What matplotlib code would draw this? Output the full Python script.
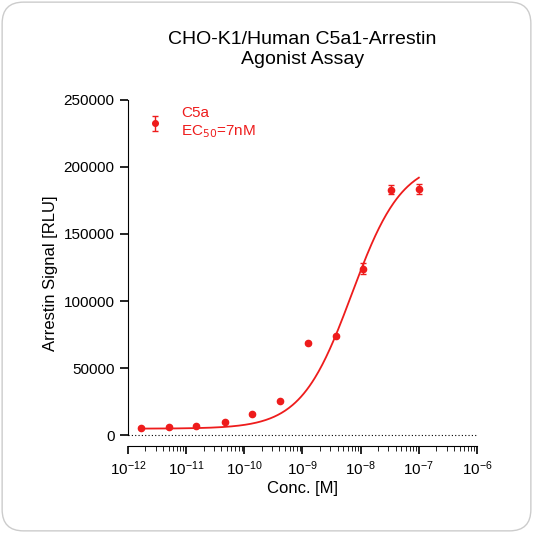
import numpy as np
import matplotlib
matplotlib.use("Agg")
import matplotlib.pyplot as plt
from matplotlib.patches import FancyBboxPatch
from matplotlib.ticker import LogLocator, NullFormatter

plt.rcParams['font.family'] = ['Liberation Sans', 'DejaVu Sans']

conc = [1.7e-12, 5e-12, 1.5e-11, 4.7e-11, 1.35e-10, 4.1e-10, 1.25e-9, 3.7e-9, 1.1e-8, 3.3e-8, 1.0e-7]
signal = [5800, 6500, 7200, 10100, 15900, 25300, 68600, 73700, 124000, 183000, 183500]
err = [300, 300, 300, 400, 500, 600, 800, 800, 4000, 3500, 4000]
bottom, top, ec50, hill = 5000, 205000, 7e-9, 1.0

fig = plt.figure(figsize=(5.33, 5.33), dpi=100)
fig.patch.set_alpha(0)
bg = FancyBboxPatch((0.004, 0.004), 0.992, 0.992, boxstyle="round,pad=0,rounding_size=0.04",
                    transform=fig.transFigure, fc='white', ec='#cccccc', lw=1, zorder=-10)
fig.patches.append(bg)
ax = fig.add_axes([0.24, 0.163, 0.655, 0.65])
ax.patch.set_alpha(0)
xs = np.logspace(np.log10(conc[0]), -7, 300)
ys = bottom + (top - bottom) / (1 + (ec50 / xs) ** hill)
red = '#ee1c1c'
ax.plot(xs, ys, color=red, lw=1.3)
ax.errorbar(conc, signal, yerr=err, fmt='o', color=red, ms=4.5, capsize=2.5, elinewidth=1, label='C5a\nEC$_{50}$=7nM')
ax.plot([1e-12, 1e-6], [0, 0], ls=(0, (1, 2)), color='black', lw=0.8)
ax.set_xscale('log')
ax.set_xlim(1e-12, 1e-6)
ax.set_ylim(-8000, 250000)
ax.set_yticks([0, 50000, 100000, 150000, 200000, 250000])
ax.xaxis.set_major_locator(LogLocator(base=10, numticks=10))
ax.xaxis.set_minor_locator(LogLocator(base=10, subs=np.arange(2, 10), numticks=100))
ax.xaxis.set_minor_formatter(NullFormatter())
for s in ['top', 'right']:
    ax.spines[s].set_visible(False)
ax.spines['left'].set_bounds(0, 250000)
ax.tick_params(labelsize=11, width=1.2, length=6)
ax.tick_params(which='minor', length=3.5)
ax.set_xlabel('Conc. [M]', fontsize=12, labelpad=2)
ax.set_ylabel('Arrestin Signal [RLU]', fontsize=12)
ax.set_title('CHO-K1/Human C5a1-Arrestin\nAgonist Assay', fontsize=14, pad=26)
leg = ax.legend(loc='upper left', bbox_to_anchor=(0.0, 1.02), frameon=False, fontsize=11, handlelength=1.8, markerscale=0.9)
for t in leg.get_texts():
    t.set_color(red)
fig.savefig('out.png', dpi=100)
